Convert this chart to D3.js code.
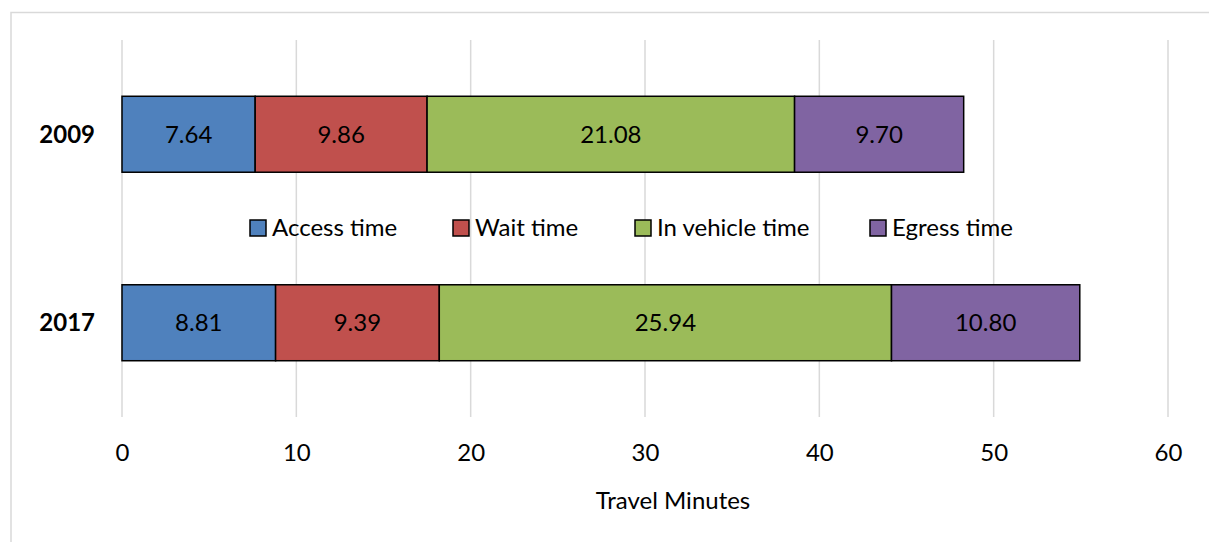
<!DOCTYPE html>
<html>
<head>
<meta charset="utf-8">
<script src="https://cdn.jsdelivr.net/npm/d3@7"></script>
<style>
  html, body { margin: 0; padding: 0; background: #fff; }
  svg { display: block; }
  text { font-family: Lato, "Open Sans", sans-serif; fill: #000; }
</style>
</head>
<body>
<svg id="chart" width="1209" height="542"></svg>
<script>
const years = ["2009", "2017"];
const seriesNames = ["Access time", "Wait time", "In vehicle time", "Egress time"];
const access = [7.64, 8.81];
const wait = [9.86, 9.39];
const inVehicle = [21.08, 25.94];
const egress = [9.70, 10.80];
const xTicks = [0, 10, 20, 30, 40, 50, 60];
const colors = ["#4F81BD", "#C0504D", "#9BBB59", "#8064A2"];

const seriesValues = [access, wait, inVehicle, egress];
const rows = years.map((y, i) => {
  const r = { year: y };
  seriesNames.forEach((s, k) => r[s] = seriesValues[k][i]);
  return r;
});
const stacked = d3.stack().keys(seriesNames)(rows);

const svg = d3.select("#chart");
const plot = { left: 122, right: 1168, top: 40, bottom: 417 };
const FS = "24px";

// outer chart border (extends past right/bottom edge)
svg.append("rect")
  .attr("x", 11).attr("y", 12.5)
  .attr("width", 1220).attr("height", 560)
  .attr("fill", "none").attr("stroke", "#d9d9d9").attr("stroke-width", 1.5);

const x = d3.scaleLinear().domain([0, 60]).range([plot.left, plot.right]);
const y = d3.scaleBand().domain(years).range([plot.top, plot.bottom])
  .paddingInner(0.597).paddingOuter(0.2985);

// gridlines
svg.append("g")
  .selectAll("line").data(xTicks).join("line")
  .attr("x1", d => x(d)).attr("x2", d => x(d))
  .attr("y1", plot.top).attr("y2", plot.bottom)
  .attr("stroke", "#d9d9d9").attr("stroke-width", 1.5);

// x axis labels
const xAxis = d3.axisBottom(x).tickValues(xTicks).tickSize(0).tickPadding(0);
const gx = svg.append("g").attr("transform", `translate(0,${plot.bottom})`).call(xAxis);
gx.select(".domain").remove();
gx.selectAll("text")
  .attr("dy", null).attr("y", 44)
  .style("font-family", "Lato, 'Open Sans', sans-serif")
  .style("font-size", FS).attr("fill", "#000");

// y axis labels
const yAxis = d3.axisLeft(y).tickSize(0).tickPadding(0);
const gy = svg.append("g").attr("transform", `translate(95,0)`).call(yAxis);
gy.select(".domain").remove();
gy.selectAll("text")
  .attr("dy", "0.35em")
  .style("font-family", "Lato, 'Open Sans', sans-serif")
  .style("font-size", FS).style("font-weight", "bold").attr("fill", "#000");

// bars
const layers = svg.append("g").selectAll("g").data(stacked).join("g")
  .attr("fill", (d, i) => colors[i]);
layers.selectAll("rect").data(d => d.map(v => ({ v, year: v.data.year }))).join("rect")
  .attr("x", d => x(d.v[0]))
  .attr("width", d => x(d.v[1]) - x(d.v[0]))
  .attr("y", d => y(d.year))
  .attr("height", y.bandwidth())
  .attr("stroke", "#000").attr("stroke-width", 1.5);

// data labels
layers.selectAll("text").data(d => d.map(v => ({ v, year: v.data.year }))).join("text")
  .attr("x", d => (x(d.v[0]) + x(d.v[1])) / 2)
  .attr("y", d => y(d.year) + y.bandwidth() / 2)
  .attr("dy", "0.35em")
  .attr("text-anchor", "middle")
  .style("font-size", FS)
  .attr("fill", "#000")
  .text(d => (d.v[1] - d.v[0]).toFixed(2));

// legend
const legendX = [250, 453, 635, 870];
const legend = svg.append("g").selectAll("g").data(seriesNames).join("g")
  .attr("transform", (d, i) => `translate(${legendX[i]},228)`);
legend.append("rect")
  .attr("x", 0).attr("y", -8).attr("width", 16).attr("height", 16)
  .attr("fill", (d, i) => colors[i]).attr("stroke", "#000").attr("stroke-width", 1.5);
legend.append("text")
  .attr("x", 22).attr("y", 0).attr("dy", "0.35em")
  .style("font-size", FS)
  .text(d => d);

// axis title
svg.append("text")
  .attr("x", 673).attr("y", 509)
  .attr("text-anchor", "middle")
  .style("font-size", FS)
  .text("Travel Minutes");
</script>
</body>
</html>
